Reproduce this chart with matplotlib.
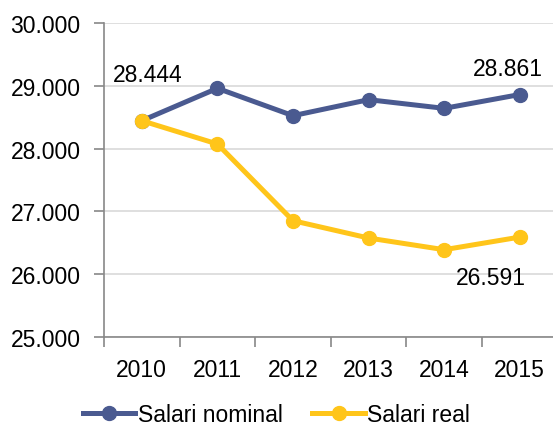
import matplotlib
matplotlib.use("Agg")
import matplotlib.pyplot as plt

years = ["2010", "2011", "2012", "2013", "2014", "2015"]
nominal = [28444, 28960, 28524, 28779, 28641, 28861]
real = [28444, 28073, 26852, 26576, 26390, 26591]
yticks = [25000, 26000, 27000, 28000, 29000, 30000]
ytick_labels = ["25.000", "26.000", "27.000", "28.000", "29.000", "30.000"]

plt.rcParams['font.family'] = ['Liberation Sans', 'DejaVu Sans']
FS = 16.5

fig = plt.figure(figsize=(5.53, 4.27), dpi=100)
ax = fig.add_axes([104/553, 1-338/427, (557.6-104)/553, (338-24)/427])

c_nom = "#4A5A90"
c_real = "#FFC51A"
x = list(range(len(years)))
ax.plot(x, nominal, color=c_nom, lw=3.6, marker="o", ms=10, label="Salari nominal", zorder=3)
ax.plot(x, real, color=c_real, lw=3.6, marker="o", ms=10, label="Salari real", zorder=3)

ax.set_xlim(-0.5, 5.5)
ax.set_ylim(25000, 30000)
ax.set_yticks(yticks)
ax.set_yticklabels(ytick_labels)
ax.set_xticks([i + 0.5 for i in range(-1, 5)], minor=False)
ax.set_xticklabels([])
ax.set_xticks(x, minor=True)
ax.set_xticklabels(years, minor=True)
ax.tick_params(axis="x", which="minor", length=0, pad=15, labelsize=FS)
ax.tick_params(axis="x", which="major", length=7, width=1.2, color="#888888")
ax.tick_params(axis="y", length=7, width=1.2, color="#888888", labelsize=FS, pad=10)

ax.grid(axis="y", color="#D9D9D9", lw=1.2, zorder=0)
for s in ["top", "right"]:
    ax.spines[s].set_visible(False)
ax.spines["left"].set_color("#888888")
ax.spines["bottom"].set_color("#888888")
ax.spines["left"].set_linewidth(1.2)
ax.spines["bottom"].set_linewidth(1.2)

def fmt(v):
    return f"{v:,}".replace(",", ".")

ax.annotate(fmt(nominal[0]), (0, nominal[0]), xytext=(6, 46), textcoords="offset pixels",
            ha="center", va="center", fontsize=FS)
ax.annotate(fmt(nominal[-1]), (5, nominal[-1]), xytext=(-12, 26), textcoords="offset pixels",
            ha="center", va="center", fontsize=FS)
ax.annotate(fmt(real[-1]), (5, real[-1]), xytext=(-29, -40), textcoords="offset pixels",
            ha="center", va="center", fontsize=FS)

fig.legend(loc="center", bbox_to_anchor=(0.5, 1-416/427), ncol=2, frameon=False,
           fontsize=FS, handlelength=2.3, handletextpad=0.1, columnspacing=1.3,
           borderpad=0.2)

fig.savefig("out.png", dpi=100)
